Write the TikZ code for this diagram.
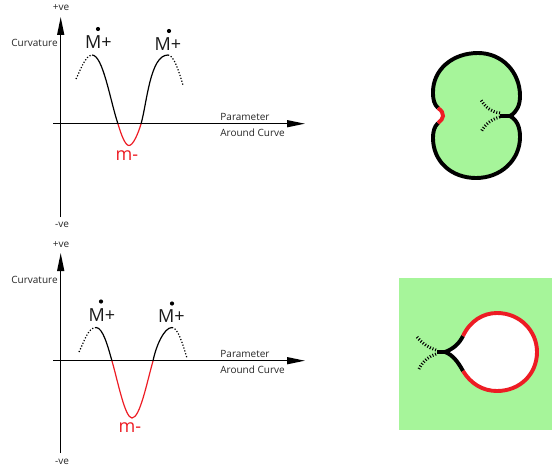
\documentclass[tikz,border=0pt]{standalone}
\usepackage{fontspec}
\setmainfont{Open Sans}
\usetikzlibrary{arrows.meta}
\definecolor{gr}{HTML}{A6F59A}
\definecolor{rd}{HTML}{ED1C24}
\tikzset{
 x=1pt,y=-1pt,
 axis/.style={line width=1.3pt,-{Triangle[length=18pt,width=7pt]}},
 curve/.style={line width=1.2pt,black},
 redcurve/.style={line width=1.2pt,rd},
 dots/.style={line width=1.2pt,dash pattern=on 1.2pt off 1.8pt},
 lab/.style={font=\fontsize{10}{11}\selectfont,inner sep=0pt,text=black!85},
 big/.style={font=\fontsize{18}{20}\selectfont,inner sep=0pt,text=black!90},
 dotmark/.style={circle,fill=black,inner sep=0pt,minimum size=4.2pt},
 outline/.style={line width=3.9pt,black},
 outred/.style={line width=3.9pt,rd},
 hatch/.style={line width=3pt,dash pattern=on 1pt off 1.8pt},
}
\begin{document}
\begin{tikzpicture}
\useasboundingbox (0,0) rectangle (553,468);
% ---------- top plot
\coordinate (a1b) at (60.7,217); \coordinate (a1t) at (60.7,17);
\coordinate (a1l) at (53,123.7); \coordinate (a1r) at (305,123.7);
\draw[axis] (a1b) -- (a1t);
\draw[axis] (a1l) -- (a1r);
\node[lab] (t1) at (61,8) {+ve};
\node[lab] (t2) at (62,225) {-ve};
\node[lab] (t3) at (34.5,42.5) {Curvature};
\node[lab] (t4) at (245,116.5) {Parameter};
\node[lab] (t5) at (252.5,132.5) {Around Curve};
\node[big] (m1) at (98.5,42) {M+};
\node[big] (m2) at (168,44.5) {M+};
\node[dotmark] (d1) at (98,29) {};
\node[dotmark] (d2) at (169,31) {};
\node[big,text=rd] (m3) at (127,155.5) {m-};
\draw[dots] (76,79) .. controls (81,69) and (85,56) .. (92,55);
\draw[curve] (92,55) .. controls (103,55) and (110,100) .. (118,124);
\draw[redcurve] (118,124) .. controls (121,134) and (125,145.5) .. (129,145.5) .. controls (133,145.5) and (138,134) .. (141,124);
\draw[curve] (141,124) .. controls (147,103) and (150,55) .. (168,55);
\draw[dots] (168,55) .. controls (174,55) and (179,72) .. (183,85);
% ---------- bottom plot
\coordinate (a2b) at (60.7,453); \coordinate (a2t) at (60.7,253);
\coordinate (a2l) at (53,360.7); \coordinate (a2r) at (305,360.7);
\draw[axis] (a2b) -- (a2t);
\draw[axis] (a2l) -- (a2r);
\node[lab] (b1) at (61,245) {+ve};
\node[lab] (b2) at (62,462) {-ve};
\node[lab] (b3) at (34.5,279.5) {Curvature};
\node[lab] (b4) at (245,353.5) {Parameter};
\node[lab] (b5) at (252.5,369.5) {Around Curve};
\node[big] (n1) at (102,315) {M+};
\node[big] (n2) at (171.5,316.5) {M+};
\node[dotmark] (e1) at (101,301.5) {};
\node[dotmark] (e2) at (172,303.5) {};
\node[big,text=rd] (n3) at (130,428) {m-};
\draw[dots] (79,352) .. controls (84,342) and (88,327.5) .. (96,327.5);
\draw[curve] (96,327.5) .. controls (103,327.5) and (108,347) .. (112,361);
\draw[redcurve] (112,361) .. controls (118,382) and (125,418) .. (132,418) .. controls (140,418) and (147,382) .. (153,361);
\draw[curve] (153,361) .. controls (156,346) and (164,327.5) .. (172,327.5);
\draw[dots] (172,327.5) .. controls (178,327.5) and (183,345) .. (187,358);
% ---------- top shape
\fill[gr] (510,116) .. controls (517,112) and (520,105) .. (520,96)
 .. controls (520,72) and (502,53) .. (478,53)
 .. controls (452,53) and (433,70) .. (433,92)
 .. controls (433,100) and (434,104) .. (438,108)
 .. controls (442,111) and (443,113) .. (443,116)
 .. controls (443,119) and (441,120) .. (438,123)
 .. controls (434,127) and (433,132) .. (433,138)
 .. controls (433,162) and (452,178) .. (476,178)
 .. controls (501,178) and (520,160) .. (520,137)
 .. controls (520,127) and (517,120) .. (510,116) -- cycle;
\draw[outline] (500,116) -- (510,116) .. controls (517,112) and (520,105) .. (520,96)
 .. controls (520,72) and (502,53) .. (478,53)
 .. controls (452,53) and (433,70) .. (433,92)
 .. controls (433,100) and (434,104) .. (438,108);
\draw[outline] (438,123) .. controls (434,127) and (433,132) .. (433,138)
 .. controls (433,162) and (452,178) .. (476,178)
 .. controls (501,178) and (520,160) .. (520,137)
 .. controls (520,127) and (517,120) .. (510,116);
\draw[outred] (438,108) .. controls (442,111) and (443,113) .. (443,116)
 .. controls (443,119) and (441,120) .. (438,123);
\draw[hatch] (500,113) .. controls (492,112) and (486,108) .. (481,100);
\draw[hatch] (500,117) .. controls (492,119) and (485,124) .. (481,132);
% ---------- bottom shape
\fill[gr] (399,278) rectangle (552,430);
\fill[white] (445,352) .. controls (453,349) and (459,344) .. (463,336)
 .. controls (470,321) and (483,313) .. (497,313)
 .. controls (520,313) and (537,331) .. (537,352)
 .. controls (537,374) and (520,391) .. (497,391)
 .. controls (483,391) and (471,384) .. (463,371)
 .. controls (458,362) and (453,355) .. (445,352) -- cycle;
\draw[outline] (437,352) -- (445,352) .. controls (453,349) and (459,344) .. (463,336);
\draw[outline] (445,352) .. controls (453,355) and (458,362) .. (463,371);
\draw[outred] (463,336) .. controls (470,321) and (483,313) .. (497,313)
 .. controls (520,313) and (537,331) .. (537,352)
 .. controls (537,374) and (520,391) .. (497,391)
 .. controls (483,391) and (471,384) .. (463,371);
\draw[hatch] (436,350) .. controls (429,348) and (423,344) .. (417,337);
\draw[hatch] (436,354) .. controls (429,356) and (423,361) .. (419,369);
\end{tikzpicture}
\end{document}
